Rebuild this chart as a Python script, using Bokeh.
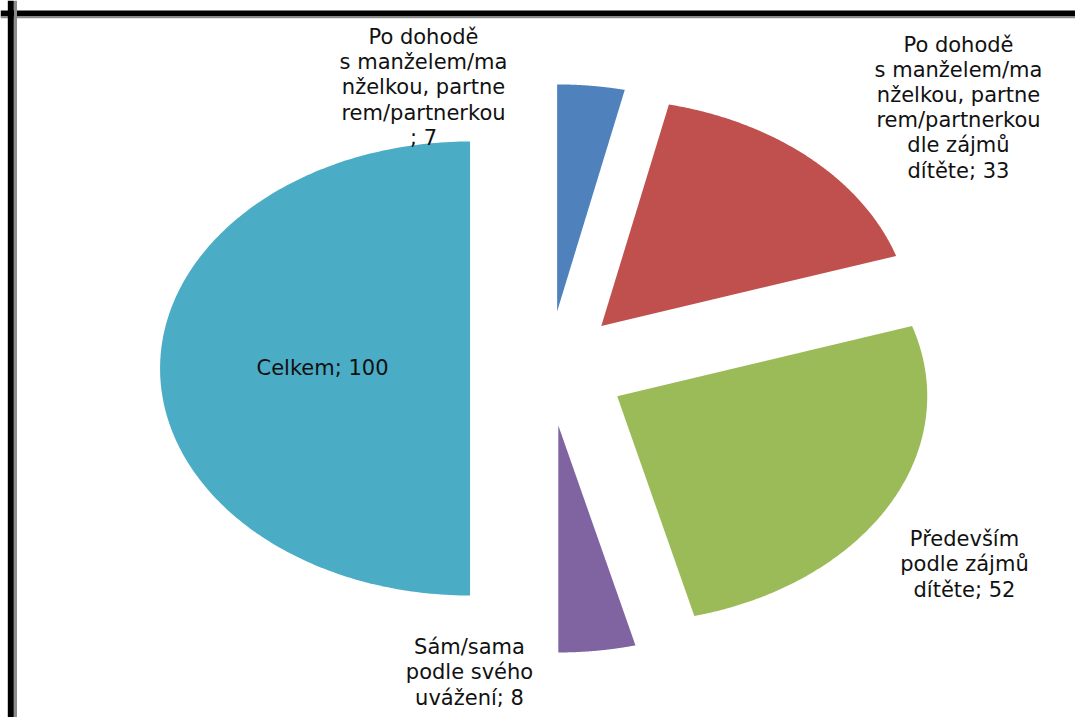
import numpy as np
from bokeh.plotting import figure
from bokeh.models import Range1d, Span, ColumnDataSource
from bokeh.core.properties import value
from bokeh.embed import file_html
from bokeh.resources import INLINE

# ---- data ----
categories = [
    "Po dohodě s manželem/manželkou, partnerem/partnerkou",
    "Po dohodě s manželem/manželkou, partnerem/partnerkou dle zájmů dítěte",
    "Především podle zájmů dítěte",
    "Sám/sama podle svého uvážení",
    "Celkem",
]
values = [7, 33, 52, 8, 100]
colors = ["#4F81BD", "#C0504D", "#9BBB59", "#8064A2", "#4BACC6"]
label_texts = [
    "Po dohodě\ns manželem/ma\nnželkou, partne\nrem/partnerkou\n; 7",
    "Po dohodě\ns manželem/ma\nnželkou, partne\nrem/partnerkou\ndle zájmů\ndítěte; 33",
    "Především\npodle zájmů\ndítěte; 52",
    "Sám/sama\npodle svého\nuvážení; 8",
    "Celkem; 100",
]

# ---- layout (screen-like coordinates, y grows downward) ----
W, H = 1075, 717
cx, cy = 548.0, 368.0
rx, ry = 310.0, 227.0
explode = 0.253
label_x = [423, 958, 964, 469, 322]
label_y = [87, 107, 564, 672, 367]

p = figure(width=W, height=H, output_backend="svg", toolbar_location=None,
           x_range=Range1d(0, W), y_range=Range1d(H, 0), min_border=0)
p.axis.visible = False
p.grid.visible = False
p.outline_line_color = None
p.background_fill_color = "white"
p.border_fill_color = "white"

total = float(sum(values))
xs, ys = [], []
start = 0.0
for v in values:
    span = 2 * np.pi * v / total
    end = start + span
    mid = (start + end) / 2
    ox = explode * rx * np.sin(mid)
    oy = -explode * ry * np.cos(mid)
    t = np.linspace(start, end, 200)
    px = np.concatenate([[cx + ox], cx + ox + rx * np.sin(t)])
    py = np.concatenate([[cy + oy], cy + oy - ry * np.cos(t)])
    xs.append(list(px))
    ys.append(list(py))
    start = end

src = ColumnDataSource(dict(xs=xs, ys=ys, color=colors, cat=categories, val=values))
p.patches("xs", "ys", source=src, fill_color="color", line_color=None)

lsrc = ColumnDataSource(dict(x=label_x, y=label_y, text=label_texts))
p.text("x", "y", text="text", source=lsrc, text_align="center", text_baseline="middle",
       text_font=value("DejaVu Sans"), text_font_size="21px", text_color="#111111",
       text_line_height=1.05)

# frame (top and left edges visible)
p.add_layout(Span(location=13, dimension="width", line_color="black", line_width=6))
p.add_layout(Span(location=16.7, dimension="width", line_color="#8c8c8c", line_width=2))
p.add_layout(Span(location=10.3, dimension="height", line_color="black", line_width=6))
p.add_layout(Span(location=15, dimension="height", line_color="#8c8c8c", line_width=3))

open("out.html", "w").write(file_html(p, INLINE))
